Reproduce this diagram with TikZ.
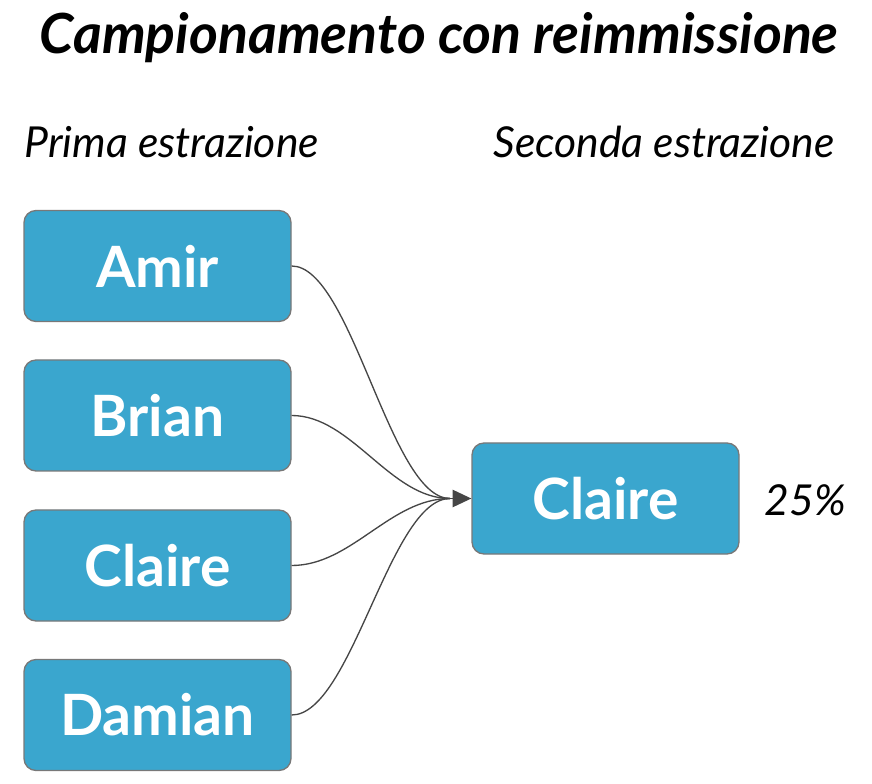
\documentclass[tikz,border=0pt]{standalone}
\usepackage{fontspec}
\setmainfont{Lato}
\usetikzlibrary{arrows.meta}
\definecolor{boxblue}{RGB}{58,166,206}
\definecolor{boxedge}{RGB}{120,120,120}
\definecolor{linkgray}{RGB}{70,70,70}
\tikzset{
  person/.style={draw=boxedge,line width=1pt,fill=boxblue,rounded corners=9pt,
    minimum width=200.25pt,minimum height=83.25pt,inner sep=0pt,
    text=white,font=\fontsize{42.7}{42.7}\selectfont\bfseries},
  link/.style={draw=linkgray,line width=1pt},
}
\begin{document}
\begin{tikzpicture}[x=0.75pt,y=0.75pt,yscale=-1,xscale=1]
\useasboundingbox (0,0) rectangle (872,784);

% Title and column heads
\node (title) at (439,38) {\fontsize{41.5}{41.5}\selectfont\bfseries\itshape Campionamento con reimmissione};
\node[anchor=west] (first) at (20,142) {\fontsize{32}{32}\selectfont\itshape Prima estrazione};
\node[anchor=west] (second) at (489,142) {\fontsize{32}{32}\selectfont\itshape Seconda estrazione};

% First draw
\node[person] (amir) at (157.5,266) {Amir};
\node[person] (brian) at (157.5,415.5) {Brian};
\node[person] (claire) at (157.5,565.5) {Claire};
\node[person] (damian) at (157.5,715) {Damian};

% Second draw
\node[person] (pick) at (605.5,498.5) {Claire};
\node[anchor=west] (pct) at (760,500) {\fontsize{32}{32}\selectfont\itshape 25\%};

\coordinate (join) at (450,498.5);
\foreach \src in {amir,brian,claire,damian}
  \draw[link] (\src.east) .. controls +(60,0) and +(-60,0) .. (join);
\draw[link,-{Triangle[length=14pt,width=13pt]}] (join) -- (pick.west);
\end{tikzpicture}
\end{document}
